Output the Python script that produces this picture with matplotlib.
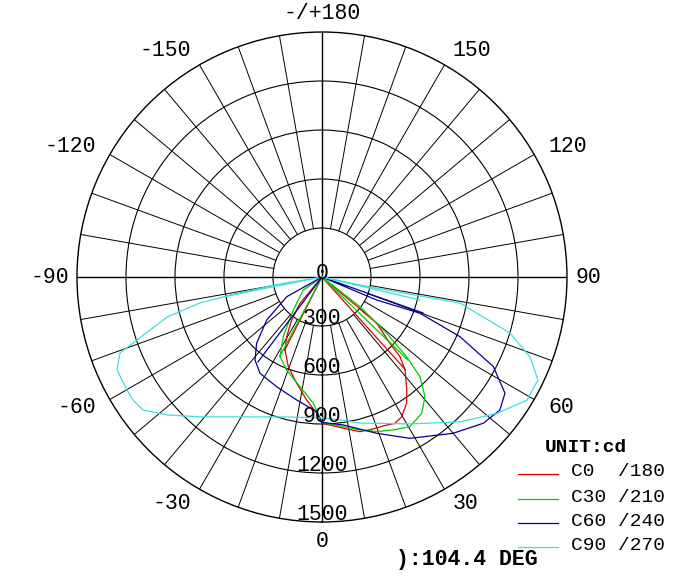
import numpy as np
import matplotlib
matplotlib.use('Agg')
import matplotlib.pyplot as plt
from matplotlib.lines import Line2D

# luminous intensity curves (cd), gamma in degrees: 0 = down, + = right half
# points are listed along the drawn path (bottom -> lobe -> centre -> closing stroke)
c0_gamma = [0, 8, 13.8, 18.1, 22.4, 26.5, 29.7, 33.8, 36.9, 41.8, 44.4, 45.7, 49.8, 50, 50, 42, 42]
c0_cd = [895, 935, 975, 981, 986, 1001, 985, 931, 865, 763, 683, 581, 439, 250, 0, 0, 760]
c180_gamma = [0, -2.2, -7.1, -13.4, -20.6, -26.9, -30.6, -35.2, -39.9, -40, -27, -27]
c180_cd = [895, 835, 759, 669, 586, 501, 424, 322, 210, 0, 0, 500]

c30_gamma = [0, 8.1, 14, 19.5, 25, 30.4, 36.2, 40.7, 44.5, 46.7, 49, 52, 52, 46, 46]
c30_cd = [890, 926, 965, 1004, 1033, 1063, 1034, 967, 856, 712, 525, 295, 0, 0, 730]
c210_gamma = [0, -3.9, -11.3, -20.8, -27.8, -33, -41, -55, -55, -28, -28]
c210_cd = [890, 775, 685, 609, 551, 435, 268, 140, 0, 0, 550]

c60_gamma = [0, 8.2, 19.3, 28.6, 40, 47.8, 53.2, 57.6, 62.4, 66.6, 69.7, 67.2, 67.2, 70.4, 70.4]
c60_cd = [890, 915, 1014, 1125, 1249, 1333, 1360, 1327, 1184, 921, 640, 363, 0, 0, 657]
c240_gamma = [0, -2.3, -11.6, -22.4, -32.8, -38.9, -44.6, -52.1, -60.8, -60.8, -37, -37]
c240_cd = [890, 825, 769, 727, 701, 653, 570, 429, 247, 0, 0, 650]

c90_gamma = [0, 8, 14.6, 31, 43.6, 52, 59, 64.5, 69, 73.4, 79.3, 78.2, 78.2, 76.8, 76.8]
c90_cd = [863, 885, 924, 1049, 1225, 1357, 1464, 1465, 1364, 1200, 860, 300, 0, 0, 616]
c270_gamma = [0, -15, -27.3, -41.1, -48.3, -53.4, -56.9, -60, -65.6, -69.4, -71.2, -75.5, -78,
              -78.7, -80.5, -80.5, -78.7, -78.7]
c270_cd = [863, 887, 964, 1136, 1270, 1365, 1381, 1380, 1378, 1321, 1196, 980, 763,
           593, 300, 0, 0, 593]

curve_colors = ['#dd0000', '#00cc00', '#000099', '#40dede']
legend_labels = ['C0  /180', 'C30 /210', 'C60 /240', 'C90 /270']

ring_values = [300, 600, 900, 1200, 1500]
ring_labels = ['300', '600', '900', '1200', '1500']
angle_ticks = [0, 30, 60, 90, 120, 150, 180, -150, -120, -90, -60, -30]
angle_labels = ['0', '30', '60', '90', '120', '150', '-/+180', '-150', '-120', '-90', '-60', '-30']

mono = 'Liberation Mono'

fig = plt.figure(figsize=(6.85, 5.82), dpi=100)
ax = fig.add_axes([0.1124, 0.1031, 0.7153, 0.8419], projection='polar')
ax.set_theta_zero_location('S')
ax.set_theta_direction(1)
ax.set_ylim(0, 1500)
ax.set_xticks([])
ax.set_yticks(ring_values[:-1])
ax.set_yticklabels([])
ax.yaxis.grid(True, color='black', lw=0.8)
ax.spines['polar'].set_linewidth(1.0)

# spokes every 10 deg, starting at the inner ring except the main axes
for a in range(-170, 190, 10):
    r0 = 0 if a % 90 == 0 else 300
    ax.plot(np.radians([a, a]), [r0, 1500], color='black', lw=1.0 if r0 == 0 else 0.7, zorder=2)

curves = [(c0_gamma, c0_cd, c180_gamma, c180_cd),
          (c30_gamma, c30_cd, c210_gamma, c210_cd),
          (c60_gamma, c60_cd, c240_gamma, c240_cd),
          (c90_gamma, c90_cd, c270_gamma, c270_cd)]
for (g1, i1, g2, i2), col in zip(curves, curve_colors):
    ax.plot(np.radians(g1), i1, color=col, lw=0.9, zorder=3)
    ax.plot(np.radians(g2), i2, color=col, lw=0.9, zorder=3)

# radial labels along the 0 axis
ax.text(0, 15, '0', ha='center', va='baseline', fontsize=15.5, family=mono, zorder=4)
for r, s in zip(ring_values, ring_labels):
    ax.text(0, r - 10, s, ha='center', va='baseline', fontsize=15.5, family=mono, zorder=4)

# angle labels
for a, s in zip(angle_ticks, angle_labels):
    th = np.radians(a)
    if a == 0:
        ax.text(th, 1656, s, ha='center', va='baseline', fontsize=15.5, family=mono)
    elif a == 180:
        ax.text(th, 1580, s, ha='center', va='baseline', fontsize=15.5, family=mono)
    else:
        r = 1550 if abs(a) == 90 else 1600
        ax.text(th, r, s, ha='left' if a > 0 else 'right', va='center',
                fontsize=15.5, family=mono)

# legend
fig.text(545 / 685, 1 - 447 / 582, 'UNIT:cd', fontsize=14, family=mono, fontweight='bold', va='center')
row_y = [472, 497, 521, 545]
for yy, col, lab in zip(row_y, curve_colors, legend_labels):
    fig.add_artist(Line2D([518 / 685, 558 / 685], [1 - (yy + 1.5) / 582] * 2, color=col, lw=0.9))
    fig.text(571 / 685, 1 - yy / 582, lab, fontsize=14, family=mono, va='center')

fig.text(396 / 685, 1 - 560 / 582, '):104.4 DEG', fontsize=15.5, family=mono, fontweight='bold', va='center')

fig.savefig('out.png', dpi=100)
